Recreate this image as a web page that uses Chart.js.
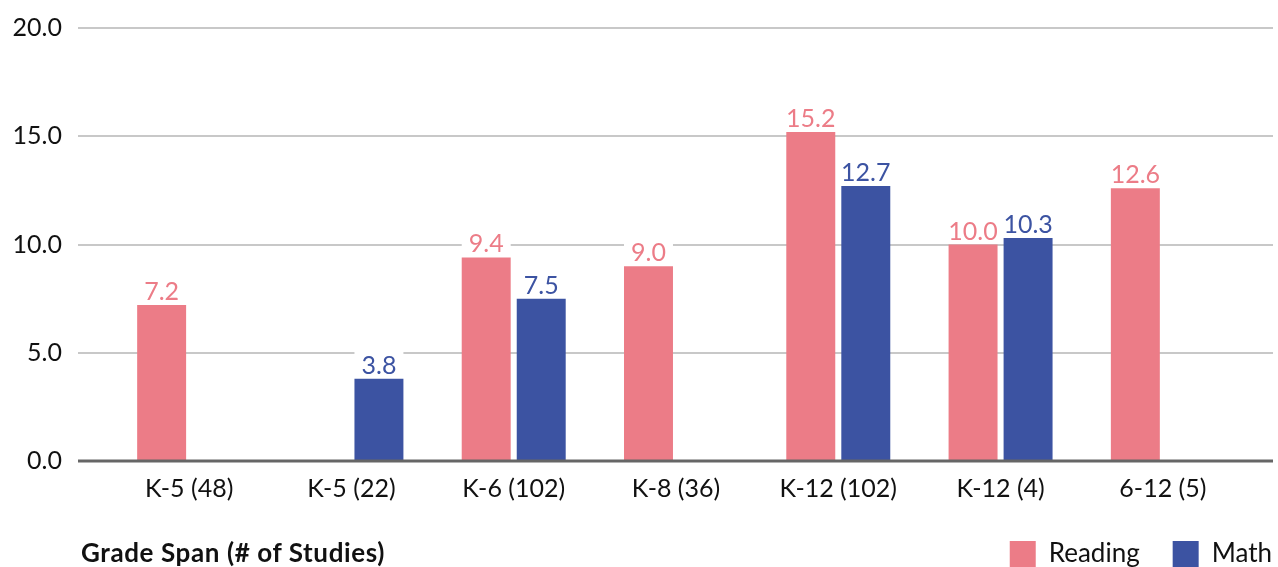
<!DOCTYPE html>
<html>
<head>
<meta charset="utf-8">
<script src="https://cdn.jsdelivr.net/npm/chart.js@4.4.1/dist/chart.umd.min.js"></script>
<style>
  html, body { margin: 0; padding: 0; background: #fff; overflow: hidden; }
  #wrap { position: relative; width: 1278px; height: 567px; overflow: hidden; }
  #chart { position: absolute; left: 0; top: 0; }
  #axisTitle {
    position: absolute; left: 81px; top: 536px;
    font-family: Lato, sans-serif; font-weight: 700; font-size: 26px; color: #111;
    letter-spacing: 0.6px; white-space: nowrap;
  }
</style>
</head>
<body>
<div id="wrap">
  <canvas id="chart" width="1305" height="577"></canvas>
  <div id="axisTitle">Grade Span (# of Studies)</div>
</div>
<script>
const categorias = ['K-5 (48)', 'K-5 (22)', 'K-6 (102)', 'K-8 (36)', 'K-12 (102)', 'K-12 (4)', '6-12 (5)'];
const lectura = [7.2, null, 9.4, 9.0, 15.2, 10.0, 12.6];
const matematica = [null, 3.8, 7.5, null, 12.7, 10.3, null];
const ticksY = [0, 5, 10, 15, 20];

const colorLectura = '#ec7c87';
const colorMate = '#3c53a2';
const fuente = 'Lato, sans-serif';

// lineas de la grilla, mas anchas que el area del grafico
const grillaPlugin = {
    id: 'grilla',
    beforeDatasetsDraw(chart) {
        const {ctx, chartArea, scales} = chart;
        ctx.save();
        ctx.strokeStyle = '#c8c8c8';
        ctx.lineWidth = 2;
        ticksY.forEach(v => {
            if (v === 0) return;
            const y = Math.round(scales.y.getPixelForValue(v));
            ctx.beginPath();
            ctx.moveTo(chartArea.left - 30, y);
            ctx.lineTo(chartArea.right + 29, y);
            ctx.stroke();
        });
        ctx.restore();
    },
    afterDatasetsDraw(chart) {
        const {ctx, chartArea, scales} = chart;
        ctx.save();
        // etiquetas de valores
        ctx.font = `25px ${fuente}`;
        ctx.textAlign = 'center';
        ctx.textBaseline = 'alphabetic';
        chart.data.datasets.forEach((ds, i) => {
            chart.getDatasetMeta(i).data.forEach((bar, j) => {
                const v = ds.data[j];
                if (v === null || v === undefined) return;
                ctx.fillStyle = '#fff';
                ctx.fillRect(bar.x - bar.width / 2, bar.y - 28, bar.width, 27);
                ctx.fillStyle = ds.backgroundColor;
                ctx.fillText(v.toFixed(1), bar.x, bar.y - 5);
            });
        });
        // linea del cero
        const y0 = scales.y.getPixelForValue(0);
        ctx.strokeStyle = '#666';
        ctx.lineWidth = 3;
        ctx.beginPath();
        ctx.moveTo(chartArea.left - 30, y0);
        ctx.lineTo(chartArea.right + 29, y0);
        ctx.stroke();
        ctx.restore();
    }
};

const ctx = document.getElementById('chart').getContext('2d');
new Chart(ctx, {
    type: 'bar',
    data: {
        labels: categorias,
        datasets: [
            { label: 'Reading', data: lectura, backgroundColor: colorLectura, categoryPercentage: 0.678, barPercentage: 0.89 },
            { label: 'Math', data: matematica, backgroundColor: colorMate, categoryPercentage: 0.678, barPercentage: 0.89 }
        ]
    },
    options: {
        responsive: false,
        animation: false,
        layout: { padding: { top: 28, left: 0, right: 0, bottom: 0 } },
        plugins: {
            tooltip: { enabled: false },
            legend: {
                position: 'bottom',
                align: 'end',
                labels: {
                    boxWidth: 26, boxHeight: 26, padding: 33,
                    color: '#111',
                    font: { family: fuente, size: 26 }
                }
            }
        },
        scales: {
            x: {
                grid: { display: false, drawTicks: false },
                border: { display: false },
                ticks: { color: '#111', font: { family: fuente, size: 25 }, padding: 13, maxRotation: 0 },
                afterFit: (s) => { s.height = 47; }
            },
            y: {
                min: 0, max: 20,
                afterBuildTicks: (s) => { s.ticks = ticksY.map(v => ({value: v})); },
                grid: { display: false, drawTicks: false },
                border: { display: false },
                ticks: { color: '#111', font: { family: fuente, size: 25 }, padding: 46, callback: (v) => v.toFixed(1) },
                afterFit: (s) => { s.width = 108; s.paddingTop = 0; s.paddingBottom = 0; }
            },
            derecha: {
                type: 'linear', position: 'right', display: true,
                grid: { display: false, drawTicks: false },
                border: { display: false },
                ticks: { display: false },
                afterFit: (s) => { s.width = 61; }
            }
        }
    },
    plugins: [grillaPlugin]
});
</script>
</body>
</html>
